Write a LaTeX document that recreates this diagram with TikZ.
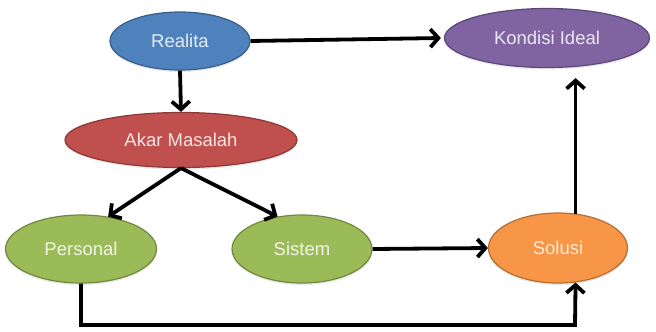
\documentclass[tikz,border=0pt]{standalone}
\usepackage{fontspec}
\setmainfont{Liberation Sans}
\usetikzlibrary{shapes.geometric,arrows.meta,shadows,calc}

\definecolor{blueFill}{HTML}{4F81BD}
\definecolor{blueLine}{HTML}{385D8A}
\definecolor{purpleFill}{HTML}{8064A2}
\definecolor{purpleLine}{HTML}{5C4776}
\definecolor{redFill}{HTML}{C0504D}
\definecolor{redLine}{HTML}{8C3836}
\definecolor{greenFill}{HTML}{9BBB59}
\definecolor{greenLine}{HTML}{71893F}
\definecolor{orangeFill}{HTML}{F79646}
\definecolor{orangeLine}{HTML}{B66D31}

\tikzset{
  bubble/.style={ellipse, inner sep=0pt, line width=1.2pt,
    font=\fontsize{18.5}{21}\selectfont,
    drop shadow={shadow xshift=0pt, shadow yshift=-2pt, opacity=0.18}},
  blueB/.style={bubble, fill=blueFill, draw=blueLine, text=white!85!blueFill},
  purpleB/.style={bubble, fill=purpleFill, draw=purpleLine, text=white!85!purpleFill},
  redB/.style={bubble, fill=redFill, draw=redLine, text=white!85!redFill},
  greenB/.style={bubble, fill=greenFill, draw=greenLine, text=white!85!greenFill},
  orangeB/.style={bubble, fill=orangeFill, draw=orangeLine, text=white!80!orangeFill},
  arr/.style={line width=3.8pt, black,
    -{Straight Barb[length=8pt, width=18pt, line width=3.8pt]}},
}

\begin{document}
\begin{tikzpicture}[x=1pt, y=-1pt]
  \useasboundingbox (0,0) rectangle (656,332);

  % ellipses
  \node[blueB, minimum width=140pt, minimum height=58pt] (realita) at (180,41) {Realita};
  \node[purpleB, minimum width=205pt, minimum height=59pt] (kondisi) at (547,38) {Kondisi Ideal};
  \node[redB, minimum width=232pt, minimum height=55pt] (akar) at (181,140) {Akar Masalah};
  \node[greenB, minimum width=151pt, minimum height=68pt] (personal) at (81,249) {Personal};
  \node[greenB, minimum width=140pt, minimum height=68pt] (sistem) at (302,249) {Sistem};
  \node[orangeB, minimum width=139pt, minimum height=70pt] (solusi) at (558,248) {Solusi};

  % bend of the lower connector
  \coordinate (bend) at (575,325);

  % connectors
  \draw[arr] (realita.east) -- ([xshift=-3pt]kondisi.west);
  \draw[arr] (realita.south) -- (akar.north);
  \draw[arr] (akar.south) -- (personal.50);
  \draw[arr] (akar.south) -- (sistem.127);
  \draw[arr] (sistem.east) -- (solusi.west);
  \draw[arr] (solusi.63) -- ([yshift=-10pt]solusi.63 |- kondisi.south);
  \draw[arr] (personal.south) |- (bend) -- (solusi.-63);
\end{tikzpicture}
\end{document}
